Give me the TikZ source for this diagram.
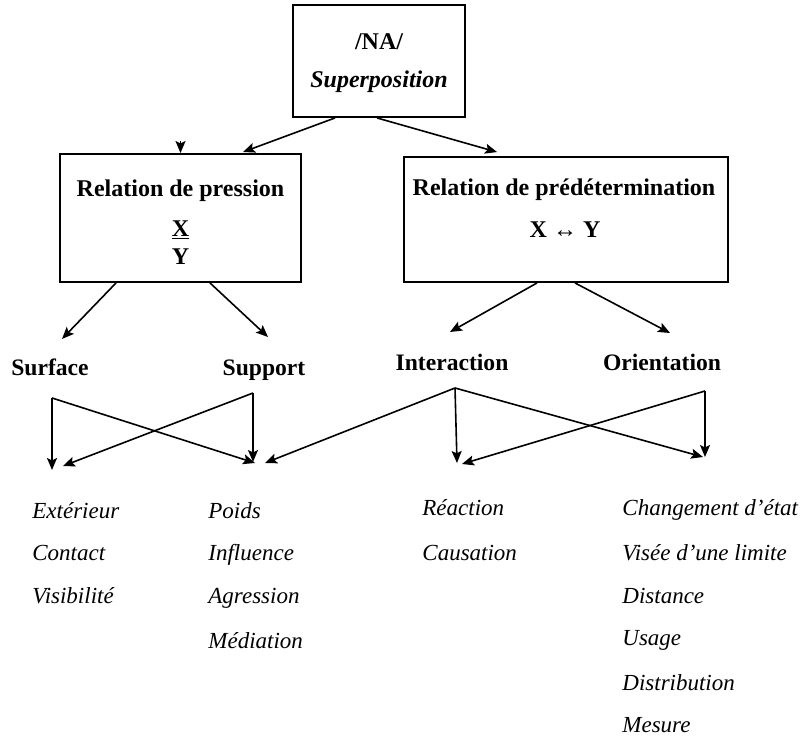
\documentclass[tikz,border=0pt]{standalone}
\usepackage{fontspec}
\setmainfont{Liberation Serif}
\usetikzlibrary{arrows.meta,calc}

\begin{document}
\begin{tikzpicture}[x=0.5pt, y=-0.5pt,
  box/.style={draw=black, line width=0.95pt, inner sep=0pt},
  boxtxt/.style={anchor=base, inner sep=0pt, font=\fontsize{12}{14}\selectfont\bfseries},
  branch/.style={anchor=base, inner sep=0pt, font=\fontsize{11.8}{14}\selectfont\bfseries},
  item/.style={anchor=base west, inner sep=0pt, font=\fontsize{11.5}{14}\selectfont\itshape},
  arr/.style={-{Stealth[length=6pt,width=5pt,inset=1.2pt]}, line width=0.8pt}]
  \useasboundingbox (0,0) rectangle (806,737);

  % boxes
  \node[box, minimum width=86pt, minimum height=56pt] (na) at (379,61) {};
  \node[box, minimum width=120.5pt, minimum height=64pt] (lp) at (180.5,218) {};
  \node[box, minimum width=162pt, minimum height=62.5pt] (rp) at (566,219.5) {};
  \node[boxtxt] (natitle) at (379,50) {/NA/};
  \node[boxtxt] (nasub) at (379,88) {\textit{Superposition}};
  \node[boxtxt] (lptitle) at (180.5,197) {Relation de pression};
  \node[boxtxt] (lpx) at (180.5,236) {\underline{X}};
  \node[boxtxt] (lpy) at (180.5,264) {Y};
  \node[boxtxt] (rptitle) at (564,196) {Relation de prédétermination};
  \node[boxtxt] (rpxy) at (565,237) {X ↔ Y};

  % branches
  \node[branch] (surf) at (50,375) {Surface};
  \node[branch] (supp) at (264,375) {Support};
  \node[branch] (inter) at (452,370) {Interaction};
  \node[branch] (orient) at (662,370) {Orientation};

  \coordinate (stub) at (180.5,141);
  \coordinate (surf-in) at (62,339);
  \coordinate (supp-in) at (268,337);
  \coordinate (inter-in) at (450,332);
  \coordinate (orient-in) at (670,333);

  \draw[arr] ($(na.south)+(-44,0)$) -- (243,152);
  \draw[arr] (stub) -- (lp.north);
  \draw[arr] ($(na.south)+(-2,0)$) -- ($(rp.north)+(-69,-4)$);
  \draw[arr] ($(lp.south)+(-64.5,0)$) -- (surf-in);
  \draw[arr] ($(lp.south)+(29.5,0)$) -- (supp-in);
  \draw[arr] ($(rp.south)+(-29,0)$) -- (inter-in);
  \draw[arr] ($(rp.south)+(9,0)$) -- (orient-in);

  % crossing links
  \coordinate (surf-out) at (52,398);
  \coordinate (supp-out) at (253,393);
  \coordinate (inter-out) at (455,388);
  \coordinate (orient-out) at (705,391);
  \coordinate (col1a) at (52,470);
  \coordinate (col1b) at (63,466);
  \coordinate (col2a) at (255,463);
  \coordinate (col2b) at (253,462);
  \coordinate (col2c) at (265,463);
  \coordinate (col3a) at (457,463);
  \coordinate (col3b) at (462,464);
  \coordinate (col4a) at (703,457);
  \coordinate (col4b) at (705,457);

  \draw[arr] (surf-out) -- (col1a);
  \draw[arr] (surf-out) -- (col2a);
  \draw[arr] (supp-out) -- (col2b);
  \draw[arr] (supp-out) -- (col1b);
  \draw[arr] (inter-out) -- (col2c);
  \draw[arr] (inter-out) -- (col3a);
  \draw[arr] (inter-out) -- (col4a);
  \draw[arr] (orient-out) -- (col4b);
  \draw[arr] (orient-out) -- (col3b);

  % lists
  \node[item] (ext) at (32,518) {Extérieur};
  \node[item] (cont) at (32,560) {Contact};
  \node[item] (vis) at (32,603) {Visibilité};
  \node[item] (poids) at (208,518) {Poids};
  \node[item] (infl) at (208,560) {Influence};
  \node[item] (agr) at (208,603) {Agression};
  \node[item] (med) at (208,648) {Médiation};
  \node[item] (reac) at (422,515) {Réaction};
  \node[item] (caus) at (422,560) {Causation};
  \node[item] (chg) at (622,515) {Changement d'état};
  \node[item] (vise) at (622,560) {Visée d'une limite};
  \node[item] (dist) at (622,603) {Distance};
  \node[item] (usage) at (622,645) {Usage};
  \node[item] (distr) at (622,690) {Distribution};
  \node[item] (mes) at (622,732) {Mesure};
\end{tikzpicture}
\end{document}
